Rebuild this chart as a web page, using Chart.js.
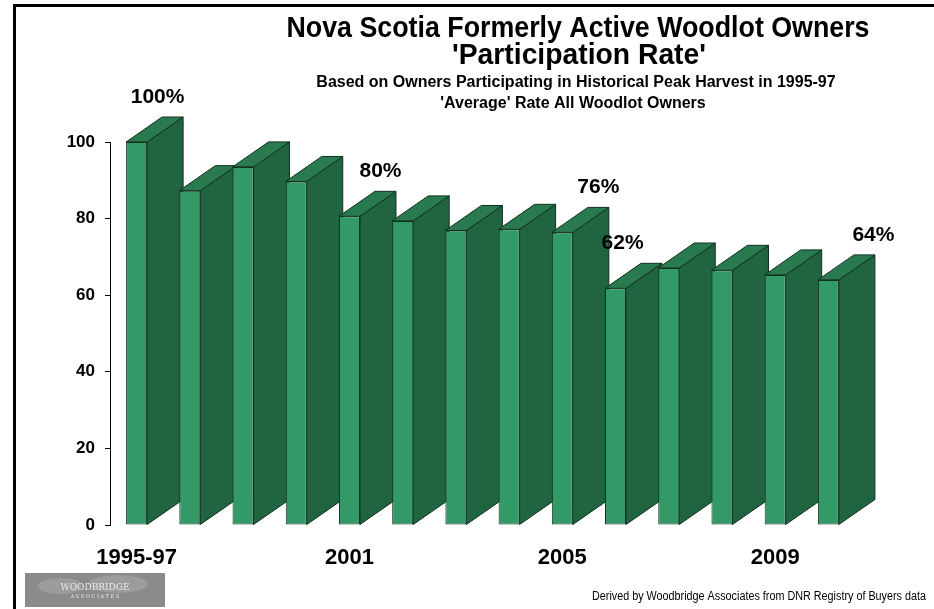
<!DOCTYPE html>
<html>
<head>
<meta charset="utf-8">
<script src="https://cdn.jsdelivr.net/npm/chart.js@4"></script>
<style>
  html, body { margin:0; padding:0; background:#fff; }
  #wrap { position:relative; width:934px; height:609px; }
</style>
</head>
<body>
<div id="wrap"><canvas id="chart"></canvas></div>
<script>
// values
const categories = ['1995-97','1998','1999','2000','2001','2002','2003','2004','2005','2006','2007','2008','2009','2010'];
const rates = [100, 87.3, 93.5, 89.7, 80.6, 79.4, 76.9, 77.2, 76.4, 61.8, 67.1, 66.5, 65.3, 64.0];
const valueLabels = ['100%','','','','80%','','','','76%','62%','','','','64%'];
const shownYears = ['1995-97','2001','2005','2009'];
const titleLines = ["Nova Scotia Formerly Active Woodlot Owners", "'Participation Rate'"];
const subtitleLines = ["Based on Owners Participating in Historical Peak Harvest in 1995-97", "'Average' Rate All Woodlot Owners"];
const sourceNote = 'Derived by Woodbridge Associates from DNR Registry of Buyers data';

const FONT = "'Liberation Sans', Arial, sans-serif";
Chart.defaults.font.family = FONT;

// side + top of each bar, drawn before the front faces
const depth3d = {
  id:'depth3d',
  beforeDatasetsDraw(chart, args, o){
    const ctx = chart.ctx;
    chart.getDatasetMeta(0).data.forEach(b=>{
      const l = b.x - b.width/2, r = b.x + b.width/2;
      ctx.save();
      ctx.lineWidth = 1; ctx.strokeStyle = o.edge; ctx.lineJoin = 'round';
      ctx.beginPath();
      ctx.moveTo(r, b.y); ctx.lineTo(r+o.dx, b.y+o.dy); ctx.lineTo(r+o.dx, b.base+o.dy); ctx.lineTo(r, b.base);
      ctx.closePath(); ctx.fillStyle = o.side; ctx.fill(); ctx.stroke();
      ctx.beginPath();
      ctx.moveTo(l, b.y); ctx.lineTo(l+o.dx, b.y+o.dy); ctx.lineTo(r+o.dx, b.y+o.dy); ctx.lineTo(r, b.y);
      ctx.closePath(); ctx.fillStyle = o.top; ctx.fill(); ctx.stroke();
      ctx.restore();
    });
  },
  afterDatasetsDraw(chart, args, o){
    const ctx = chart.ctx;
    ctx.save();
    ctx.font = 'bold 21px '+FONT; ctx.fillStyle = '#000';
    ctx.textAlign = 'center'; ctx.textBaseline = 'middle';
    chart.getDatasetMeta(0).data.forEach((b,i)=>{
      if(!valueLabels[i]) return;
      ctx.fillText(valueLabels[i], b.x + o.labelDx[i], b.y - 45, 56);
    });
    ctx.restore();
  }
};

// frame, titles, footer, logo
const decor = {
  id:'decor',
  afterDraw(chart){
    const ctx = chart.ctx;
    ctx.save();
    ctx.fillStyle = '#000';
    ctx.fillRect(13, 4, 934-13, 3);
    ctx.fillRect(13, 4, 3, 609-4);
    ctx.textAlign = 'center'; ctx.textBaseline = 'middle';
    ctx.font = 'bold 29px '+FONT;
    ctx.fillText(titleLines[0], 578, 29, 583);
    ctx.fillText(titleLines[1], 579, 56, 254);
    ctx.font = 'bold 16px '+FONT;
    ctx.fillText(subtitleLines[0], 576, 83, 530);
    ctx.fillText(subtitleLines[1], 573, 104, 267);
    ctx.font = '12px '+FONT;
    ctx.textAlign = 'right';
    ctx.fillText(sourceNote, 926, 597, 334);
    // logo
    ctx.fillStyle = '#8b8b8b';
    ctx.fillRect(25, 573, 140, 34);
    ctx.fillStyle = '#9c9c9c';
    ctx.beginPath(); ctx.ellipse(60, 586, 22, 8, 0, 0, Math.PI*2); ctx.fill();
    ctx.beginPath(); ctx.ellipse(118, 584, 30, 9, 0, 0, Math.PI*2); ctx.fill();
    ctx.fillStyle = '#eaeaea'; ctx.textAlign = 'center';
    ctx.font = '9px "DejaVu Serif", serif';
    ctx.fillText('WOODBRIDGE', 95, 588, 80);
    ctx.font = '5px "DejaVu Serif", serif';
    ctx.fillText('A S S O C I A T E S', 95, 597, 60);
    ctx.restore();
  }
};

new Chart(document.getElementById('chart'), {
  type:'bar',
  data:{
    labels: categories,
    datasets:[{
      data: rates,
      backgroundColor:'#339966',
      borderColor:'#10301f',
      borderWidth:1,
      borderSkipped:false,
      barPercentage:0.395,
      categoryPercentage:1
    }]
  },
  options:{
    responsive:true, maintainAspectRatio:false, animation:false,
    layout:{ padding:{ top:142, right:79, bottom:0, left:0 } },
    plugins:{
      legend:{display:false}, tooltip:{enabled:false},
      depth3d:{ dx:36, dy:-25, side:'#216442', top:'#2a7a4f', edge:'#10301f',
                labelDx:[21,0,0,0,31,0,0,0,36,7,0,0,0,45] }
    },
    scales:{
      x:{
        grid:{display:false, drawTicks:false},
        border:{display:false},
        ticks:{
          autoSkip:false, maxRotation:0, padding:20,
          color:'#000', font:{size:22, weight:'bold'},
          callback(v,i){ const c = categories[i]; return shownYears.includes(c) ? c : ''; }
        },
        afterFit(s){ s.height = 84; }
      },
      y:{
        min:0, max:100,
        grid:{drawOnChartArea:false, tickLength:5, color:'#000'},
        border:{display:true, color:'#000'},
        ticks:{ stepSize:20, padding:10, color:'#000', font:{size:17, weight:'bold'} },
        afterFit(s){ s.width = 110; }
      }
    }
  },
  plugins:[depth3d, decor]
});
</script>
</body>
</html>
